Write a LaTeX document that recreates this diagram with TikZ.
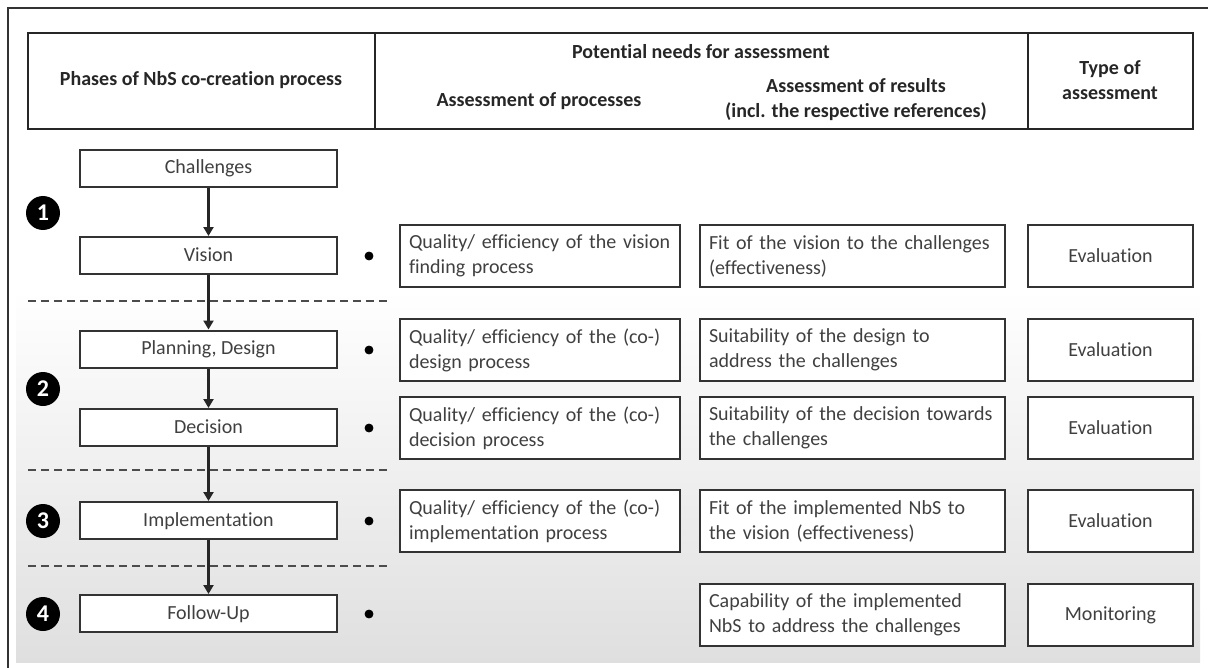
\documentclass[tikz,border=0pt]{standalone}
\usepackage{fontspec}
\setmainfont{Carlito}[Ligatures=NoCommon]
\usetikzlibrary{arrows.meta}
\begin{document}
\begin{tikzpicture}[x=0.5pt,y=-0.5pt,
    box/.style = {draw=black!80, line width=1pt, fill=white, text=black!75, font=\fontsize{10}{12.5}\selectfont},
    phase/.style = {box, minimum width=128.5pt, minimum height=18.5pt, inner sep=0pt, text height=7.5pt, text depth=2pt},
    need/.style = {box, minimum height=31pt, align=left, inner xsep=4.5pt, inner ysep=0pt,
                   execute at begin node={\hyphenpenalty=10000}},
    kind/.style = {box, minimum height=31pt, minimum width=82.5pt, inner sep=0pt},
    head/.style = {font=\bfseries\fontsize{10}{12.5}\selectfont, text=black!85, align=center},
    num/.style = {circle, fill=black, text=white, minimum size=17pt, inner sep=0pt, font=\bfseries\fontsize{12}{13}\selectfont},
    arrow/.style = {line width=1.1pt, black!85, -{Triangle[length=4.5pt,width=5pt]}}]
  \useasboundingbox (0,0) rectangle (1208,668);
  % background and frame
  \shade[top color=white, bottom color=gray!25] (16,290) rectangle (1200,662);
  \draw[black!80, line width=0.8pt] (8,668) -- (8,8) -- (1208,8);

  % table head
  \draw[black!85, line width=1pt] (28,33) rectangle (1193,129);
  \draw[black!85, line width=1pt] (375,33) -- (375,129);
  \draw[black!85, line width=1pt] (1028,33) -- (1028,129);
  \node[head] (hphase) at (201,80) {Phases of NbS co-creation process};
  \node[head] (hneed) at (701,52) {Potential needs for assessment};
  \node[head] (hproc) at (539,101) {Assessment of processes};
  \node[head] (hres) at (856,100) {Assessment of results\\(incl. the respective references)};
  \node[head] (htype) at (1110,80) {Type of\\assessment};

  % dashed separators
  \draw[black!70, line width=0.6pt, dash pattern=on 4pt off 2.5pt] (28,301) -- (387,301);
  \draw[black!70, line width=0.6pt, dash pattern=on 4pt off 2.5pt] (28,470) -- (387,470);
  \draw[black!70, line width=0.6pt, dash pattern=on 4pt off 2.5pt] (28,566) -- (387,566);

  % phases
  \node[phase] (chal) at (208.5,168.5) {Challenges};
  \node[phase] (vis) at (208.5,255.5) {Vision};
  \node[phase] (plan) at (208.5,349) {Planning, Design};
  \node[phase] (dec) at (208.5,427.5) {Decision};
  \node[phase] (impl) at (208.5,520.5) {Implementation};
  \node[phase] (follow) at (208.5,613.5) {Follow-Up};

  \draw[arrow] (chal) -- (vis);
  \draw[arrow] (vis) -- (plan);
  \draw[arrow] (plan) -- (dec);
  \draw[arrow] (dec) -- (impl);
  \draw[arrow] (impl) -- (follow);

  \node[num] (n1) at (43,213) {1};
  \node[num] (n2) at (43,389) {2};
  \node[num] (n3) at (43,521) {3};
  \node[num] (n4) at (43,614) {4};

  \filldraw (369,256) circle (2pt);
  \filldraw (369,350) circle (2pt);
  \filldraw (369,428) circle (2pt);
  \filldraw (369,521) circle (2pt);
  \filldraw (369,614) circle (2pt);

  % assessment of processes
  \node[need, text width=131pt] (pvis) at (540,256) {Quality/ efficiency of the vision\\finding process};
  \node[need, text width=131pt] (pplan) at (540,350) {Quality/ efficiency of the (co-)\\design process};
  \node[need, text width=131pt] (pdec) at (540,428) {Quality/ efficiency of the (co-)\\decision process};
  \node[need, text width=131pt] (pimpl) at (540,521) {Quality/ efficiency of the (co-)\\implementation process};

  % assessment of results
  \node[need, text width=143.5pt] (rvis) at (852.5,256) {Fit of the vision to the challenges\\(effectiveness)};
  \node[need, text width=143.5pt] (rplan) at (852.5,350) {Suitability of the design to\\address the challenges};
  \node[need, text width=143.5pt] (rdec) at (852.5,428) {Suitability of the decision towards\\the challenges};
  \node[need, text width=143.5pt] (rimpl) at (852.5,521) {Fit of the implemented NbS to\\the vision (effectiveness)};
  \node[need, text width=143.5pt] (rfollow) at (852.5,615) {Capability of the implemented\\NbS to address the challenges};

  % type of assessment
  \node[kind] (tvis) at (1110.5,256) {Evaluation};
  \node[kind] (tplan) at (1110.5,350) {Evaluation};
  \node[kind] (tdec) at (1110.5,428) {Evaluation};
  \node[kind] (timpl) at (1110.5,521) {Evaluation};
  \node[kind] (tfollow) at (1110.5,615) {Monitoring};
\end{tikzpicture}
\end{document}
